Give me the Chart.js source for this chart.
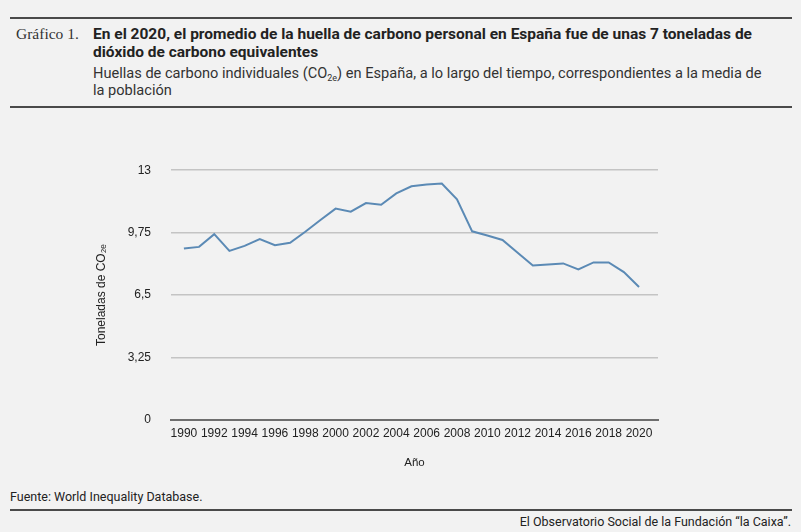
<!DOCTYPE html>
<html>
<head>
<meta charset="utf-8">
<script src="https://cdn.jsdelivr.net/npm/chart.js@4/dist/chart.umd.min.js"></script>
<style>
  html, body { margin: 0; padding: 0; background: #f2f2f2; }
  body { width: 801px; height: 532px; position: relative; overflow: hidden; font-family: Roboto, sans-serif; color: #222; }
  .rule { position: absolute; left: 10px; width: 782px; height: 2px; background: #4a4a4a; }
  .label { position: absolute; left: 16px; top: 25px; font-family: "Liberation Serif", serif; font-size: 15.5px; color: #333; }
  .title { position: absolute; left: 93px; top: 25px; width: 690px; font-weight: bold; font-size: 15.5px; line-height: 18px; color: #222; }
  .sub { position: absolute; left: 93px; top: 65px; width: 674px; font-size: 14.6px; line-height: 17px; color: #333; }
  .sub sub { font-size: 9px; line-height: 0; vertical-align: -3px; }
  .src { position: absolute; left: 10px; top: 489px; font-size: 12.5px; color: #222; }
  .brand { position: absolute; right: 10px; top: 514px; font-size: 12.5px; color: #222; }
  #wrap { position: absolute; left: 80px; top: 143px; width: 600px; height: 337px; }
</style>
</head>
<body>
<div class="rule" style="top:17px"></div>
<div class="label">Gráfico 1.</div>
<div class="title">En el 2020, el promedio de la huella de carbono personal en España fue de unas 7 toneladas de dióxido de carbono equivalentes</div>
<div class="sub">Huellas de carbono individuales (CO<sub>2e</sub>) en España, a lo largo del tiempo, correspondientes a la media de la población</div>
<div class="rule" style="top:106px"></div>
<div id="wrap"><canvas id="c"></canvas></div>
<div class="src">Fuente: World Inequality Database.</div>
<div class="rule" style="top:509px"></div>
<div class="brand">El Observatorio Social de la Fundación “la Caixa”.</div>
<script>
const years = [1990, 1991, 1992, 1993, 1994, 1995, 1996, 1997, 1998, 1999,
  2000, 2001, 2002, 2003, 2004, 2005, 2006, 2007, 2008, 2009,
  2010, 2011, 2012, 2013, 2014, 2015, 2016, 2017, 2018, 2019, 2020];
const footprint = [8.92, 9.01, 9.67, 8.80, 9.06, 9.41, 9.10, 9.22, 9.80, 10.41,
  11.00, 10.84, 11.29, 11.20, 11.79, 12.16, 12.26, 12.31, 11.48, 9.82,
  9.60, 9.37, 8.70, 8.04, 8.09, 8.15, 7.84, 8.20, 8.20, 7.70, 6.92];
const yTicks = [0, 3.25, 6.5, 9.75, 13];
const xTicks = years.filter(y => y % 2 === 0);

const fmt = v => String(v).replace('.', ',');

const ctx = document.getElementById('c').getContext('2d');
new Chart(ctx, {
  type: 'line',
  data: {
    datasets: [{
      data: years.map((y, i) => ({ x: y, y: footprint[i] })),
      borderColor: '#5b8ab5',
      borderWidth: 2,
      pointRadius: 0,
      tension: 0,
    }],
  },
  options: {
    responsive: true,
    maintainAspectRatio: false,
    animation: false,
    layout: { padding: { top: 12, right: 22, left: 0, bottom: 0 } },
    plugins: { legend: { display: false }, tooltip: { enabled: false } },
    scales: {
      x: {
        type: 'linear',
        min: 1989.15,
        max: 2021.25,
        afterBuildTicks: s => { s.ticks = xTicks.map(v => ({ value: v })); },
        afterFit: s => { s.height = 60; },
        grid: { display: false, drawTicks: false },
        border: { color: '#6e6e6e', width: 2 },
        ticks: {
          color: '#222',
          font: { family: 'Liberation Sans', size: 12 },
          padding: 6,
          maxRotation: 0,
          autoSkip: false,
          callback: v => String(v),
        },
        title: { display: true, text: 'Año', color: '#222', font: { family: 'Liberation Sans', size: 11.5 }, padding: { top: 14, bottom: 10 } },
      },
      y: {
        min: 0,
        max: 13,
        afterBuildTicks: s => { s.ticks = yTicks.map(v => ({ value: v })); },
        afterFit: s => { s.width = 91; },
        grid: { color: '#c4c4c4', lineWidth: 1.5, drawTicks: false },
        border: { display: false },
        ticks: {
          color: '#222',
          font: { family: 'Liberation Sans', size: 12 },
          padding: 20,
          callback: v => fmt(v),
        },
        title: { display: true, text: 'Toneladas de CO₂ₑ', color: '#222', font: { family: 'Liberation Sans', size: 12 }, padding: { bottom: 0, top: 14 } },
      },
    },
  },
});
</script>
</body>
</html>
